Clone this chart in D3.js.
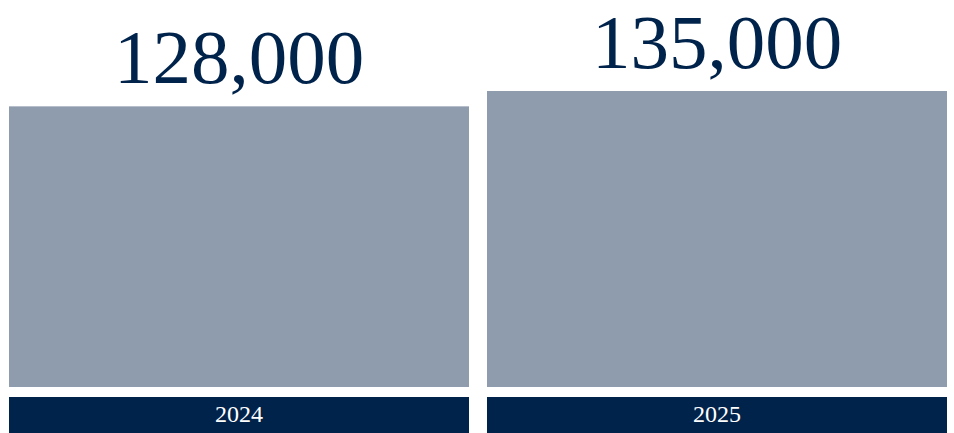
<!doctype html>
<html lang="en">
<head>
  <title>Yearly totals</title>
  <script src="https://d3js.org/d3.v7.min.js"></script>
  <style>
    body {
      margin: 0px;
      background: #fff;
    }
  </style>
</head>
<body>
    <div id="container"></div>

    <script>
        var years = ["2024", "2025"];
        var totals = [128000, 135000];

        var width = 954,
            height = 433,
            margin = { left: 9, right: 7 },
            barBottom = 387,
            labelTop = 397;

        var navy = "#00234b",
            barColor = "#8f9cae";

        var svg = d3.select("div#container").append("svg")
            .attr("width", width)
            .attr("height", height);

        var data = years.map(function(y, i) { return { year: y, value: totals[i] }; });

        // Scales
        var x = d3.scaleBand()
            .domain(years)
            .range([margin.left, width - margin.right])
            .paddingInner(18 / 478)
            .paddingOuter(0);

        var y = d3.scaleLinear()
            .domain([0, 135000])
            .range([barBottom, 91]);

        // bars
        svg.append("g")
            .selectAll("rect")
            .data(data)
            .enter()
            .append("rect")
                .attr("x", function(d) { return x(d.year); })
                .attr("y", function(d) { return y(d.value); })
                .attr("width", x.bandwidth())
                .attr("height", function(d) { return barBottom - y(d.value); })
                .attr("fill", barColor);

        // value labels above the bars
        svg.append("g")
            .selectAll("text")
            .data(data)
            .enter()
            .append("text")
                .attr("x", function(d) { return x(d.year) + x.bandwidth() / 2; })
                .attr("y", function(d) { return y(d.value) - 23; })
                .attr("text-anchor", "middle")
                .attr("font-family", "'Liberation Serif', 'DejaVu Serif', serif")
                .attr("font-size", 77)
                .attr("fill", navy)
                .text(function(d) { return d3.format(",")(d.value); });

        // year boxes under the bars
        var cat = svg.append("g")
            .selectAll("g")
            .data(data)
            .enter()
            .append("g");

        cat.append("rect")
            .attr("x", function(d) { return x(d.year); })
            .attr("y", labelTop)
            .attr("width", x.bandwidth())
            .attr("height", height - labelTop)
            .attr("fill", navy);

        cat.append("text")
            .attr("x", function(d) { return x(d.year) + x.bandwidth() / 2; })
            .attr("y", 422)
            .attr("text-anchor", "middle")
            .attr("font-family", "'Liberation Serif', 'DejaVu Serif', serif")
            .attr("font-size", 24)
            .attr("fill", "#fff")
            .text(function(d) { return d.year; });
    </script>
</body>
</html>
